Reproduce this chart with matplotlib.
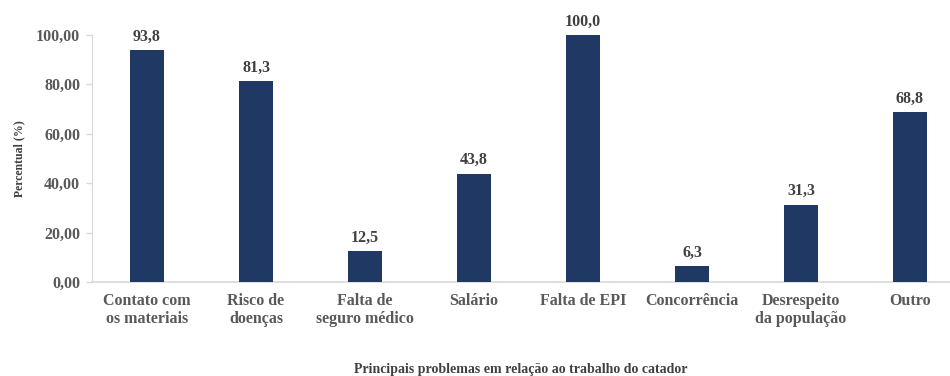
import matplotlib.pyplot as pl
import numpy as np

# Principais problemas citados pelos catadores (%)
categorias = ['Contato com\nos materiais', 'Risco de\ndoenças', 'Falta de\nseguro médico',
              'Salário', 'Falta de EPI', 'Concorrência', 'Desrespeito\nda população', 'Outro']
percentual = [93.8, 81.3, 12.5, 43.8, 100.0, 6.3, 31.3, 68.8]
yticks = [0, 20, 40, 60, 80, 100]

pl.rcParams['font.family'] = 'Liberation Serif'
pl.rcParams['font.weight'] = 'bold'

fig = pl.figure(1, figsize=[9.5, 3.76], dpi=100)
ax = fig.add_axes((0.0968, 0.25, 0.9032, 0.657))

x = np.arange(len(categorias))
bars = ax.bar(x, percentual, width=0.31, color='#203864', zorder=3)

for xi, v in zip(x, percentual):
    ax.text(xi, v + 2.2, f'{v:.1f}'.replace('.', ','), ha='center', va='bottom',
            fontsize=11.5, fontweight='bold', color='#404040', clip_on=False)

ax.set_xlim(-0.505, 7.367)
ax.set_ylim(0, 100)
ax.set_yticks(yticks)
ax.set_yticklabels([f'{t:.2f}'.replace('.', ',') for t in yticks],
                   fontsize=11.5, fontweight='bold', color='#595959')
ax.set_xticks(x)
ax.set_xticklabels(categorias, fontsize=11.5, fontweight='bold', color='#595959',
                   linespacing=1.15)
ax.tick_params(axis='y', length=4.5, width=1, color='#d9d9d9', pad=4)
ax.tick_params(axis='x', length=0, pad=8)

for s in ['top', 'right']:
    ax.spines[s].set_visible(False)
ax.spines['left'].set_color('#d9d9d9')
ax.spines['bottom'].set_color('#d9d9d9')
ax.spines['bottom'].set_linewidth(1.2)

ax.set_ylabel('Percentual (%)', fontsize=8.5, fontweight='bold', color='#404040', labelpad=8)
ax.set_xlabel('Principais problemas em relação ao trabalho do catador',
              fontsize=10, fontweight='bold', color='#404040', labelpad=26)

pl.savefig('out.png', dpi=100)
